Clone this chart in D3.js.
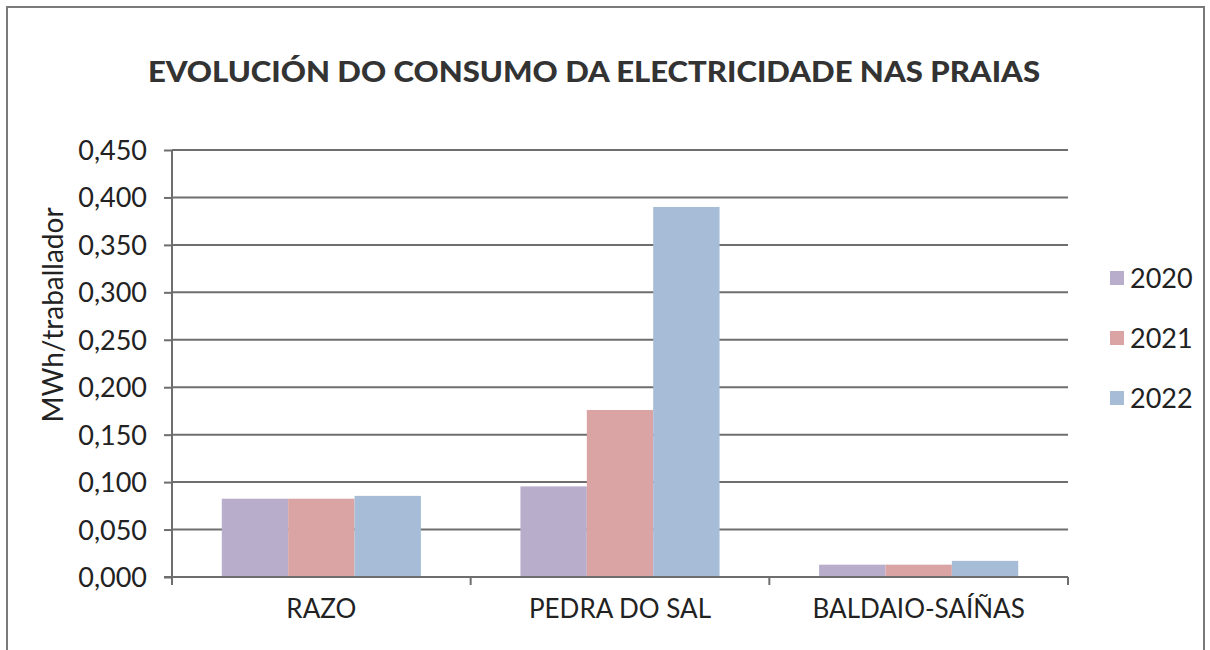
<!DOCTYPE html>
<html>
<head>
<meta charset="utf-8">
<script src="https://cdn.jsdelivr.net/npm/d3@7"></script>
<style>
  body { margin: 0; background: #fff; }
  svg text { font-family: Lato, "Open Sans", sans-serif; fill: #222; }
</style>
</head>
<body>
<div id="chart"></div>
<script>
// Chart data
var categories = ["RAZO", "PEDRA DO SAL", "BALDAIO-SAÍÑAS"];
var years = ["2020", "2021", "2022"];
var values2020 = [0.0825, 0.0955, 0.013];
var values2021 = [0.0825, 0.176, 0.013];
var values2022 = [0.0855, 0.390, 0.017];
var yTicks = [0, 0.05, 0.1, 0.15, 0.2, 0.25, 0.3, 0.35, 0.4, 0.45];
var seriesColors = ["#b8aecb", "#d9a4a3", "#a6bcd7"];

var series = [values2020, values2021, values2022];

var width = 1210,
    height = 650,
    margin = {left: 172, right: 142, top: 150, bottom: 73};

var svg = d3.select("#chart").append("svg")
    .attr("width", width)
    .attr("height", height);

// outer frame (bottom edge runs off the picture)
svg.append("rect")
    .attr("x", 7).attr("y", 7)
    .attr("width", 1197).attr("height", 700)
    .attr("fill", "none")
    .attr("stroke", "#7a7a7a")
    .attr("stroke-width", 2);

svg.append("text")
    .attr("x", 594)
    .attr("y", 82)
    .attr("text-anchor", "middle")
    .style("font-size", "29px")
    .style("font-weight", 900)
    .style("fill", "#333")
    .attr("textLength", 892)
    .attr("lengthAdjust", "spacingAndGlyphs")
    .text("EVOLUCIÓN DO CONSUMO DA ELECTRICIDADE NAS PRAIAS");

var x0 = d3.scaleBand()
    .domain(categories)
    .range([margin.left, width - margin.right]);

var x1 = d3.scaleBand()
    .domain(years)
    .range([0, x0.bandwidth()])
    .paddingOuter(0.75);

var y = d3.scaleLinear()
    .domain([0, 0.45])
    .range([height - margin.bottom, margin.top]);

var fmt = function(d) { return d3.format(".3f")(d).replace(".", ","); };

// gridlines
svg.append("g").selectAll("line")
    .data(yTicks.slice(1))
    .enter().append("line")
    .attr("x1", margin.left).attr("x2", width - margin.right)
    .attr("y1", function(d) { return y(d); })
    .attr("y2", function(d) { return y(d); })
    .attr("stroke", "#6e6e6e")
    .attr("stroke-width", 2);

// bars
var groups = svg.append("g").selectAll("g")
    .data(categories)
    .enter().append("g")
    .attr("transform", function(d) { return "translate(" + x0(d) + ",0)"; });

groups.selectAll("rect")
    .data(function(d, i) { return years.map(function(yr, j) { return {year: yr, value: series[j][i], idx: j}; }); })
    .enter().append("rect")
    .attr("x", function(d) { return x1(d.year); })
    .attr("width", x1.bandwidth())
    .attr("y", function(d) { return y(d.value); })
    .attr("height", function(d) { return y(0) - y(d.value); })
    .attr("fill", function(d) { return seriesColors[d.idx]; });

// y axis
var yAxis = svg.append("g")
    .attr("transform", "translate(" + margin.left + ",0)")
    .call(d3.axisLeft(y).tickValues(yTicks).tickFormat(fmt).tickSize(8).tickPadding(17));
yAxis.selectAll("text").style("font-size", "27px").attr("dy", "0.35em");

// x axis with boundary ticks
var xAxis = svg.append("g")
    .attr("transform", "translate(0," + y(0) + ")")
    .call(d3.axisBottom(x0).tickSize(0).tickPadding(23));
xAxis.selectAll("text").style("font-size", "26px");
xAxis.append("g").selectAll("line")
    .data(d3.range(categories.length + 1))
    .enter().append("line")
    .attr("x1", function(i) { return margin.left + i * x0.bandwidth(); })
    .attr("x2", function(i) { return margin.left + i * x0.bandwidth(); })
    .attr("y1", 0).attr("y2", 8);

svg.selectAll(".domain, .tick line, g line")
    .attr("stroke", "#6e6e6e")
    .attr("stroke-width", 2);
yAxis.select(".domain").attr("d", "M0," + (y(0) + 8) + "V" + y(0.45));
xAxis.select(".domain").attr("d", "M" + (margin.left - 8) + ",0H" + (width - margin.right));

// y axis title
svg.append("text")
    .attr("transform", "translate(63," + 315 + ") rotate(-90)")
    .attr("text-anchor", "middle")
    .style("font-size", "28px")
    .text("MWh/traballador");

// legend
var legend = svg.append("g").selectAll("g")
    .data(years)
    .enter().append("g")
    .attr("transform", function(d, i) { return "translate(1110," + (278 + i * 60) + ")"; });

legend.append("rect")
    .attr("x", 0).attr("y", -7)
    .attr("width", 14).attr("height", 14)
    .attr("fill", function(d, i) { return seriesColors[i]; });

legend.append("text")
    .attr("x", 20)
    .attr("dy", "0.36em")
    .style("font-size", "27px")
    .text(function(d) { return d; });
</script>
</body>
</html>
